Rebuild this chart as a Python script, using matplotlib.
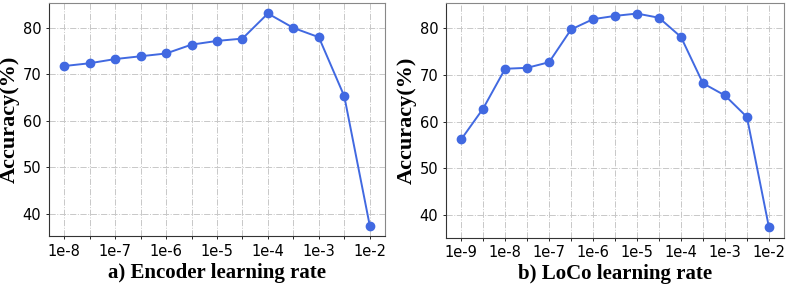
import matplotlib

matplotlib.use("Agg")
import matplotlib.pyplot as plt

enc_labels = ["1e-8", "1e-7", "1e-6", "1e-5", "1e-4", "1e-3", "1e-2"]
enc_acc = [71.8, 72.4, 73.3, 73.9, 74.5, 76.4, 77.2, 77.7, 83.1, 80.0, 78.0, 65.3, 37.5]

loco_labels = ["1e-9", "1e-8", "1e-7", "1e-6", "1e-5", "1e-4", "1e-3", "1e-2"]
loco_acc = [56.2, 62.8, 71.3, 71.5, 72.7, 79.7, 81.9, 82.6, 83.1, 82.2, 78.1, 68.2, 65.6, 61.0, 37.5]

panels = [
    (enc_acc, enc_labels, "a) Encoder learning rate"),
    (loco_acc, loco_labels, "b) LoCo learning rate"),
]

fig, axes = plt.subplots(1, 2, figsize=(7.89, 2.88), dpi=100)
serif = {"family": "Liberation Serif", "weight": "bold"}

for ax, (acc, labels, title) in zip(axes, panels):
    xs = list(range(len(acc)))
    ax.plot(xs, acc, color="#4169E1", linewidth=1.4, marker="o", markersize=6)
    ax.set_xticks(xs)
    ax.set_xticklabels([labels[i // 2] if i % 2 == 0 else "" for i in xs], fontsize=10.5)
    ax.set_yticks([40, 50, 60, 70, 80])
    ax.tick_params(axis="y", labelsize=10.5, length=2, width=0.6)
    ax.tick_params(axis="x", length=2, width=0.6)
    ax.grid(True, linestyle="-.", color="#c8c8c8", linewidth=0.7)
    ax.set_ylabel("Accuracy(%)", fontdict=serif, fontsize=16, labelpad=2)
    ax.set_xlabel(title, fontdict=serif, fontsize=15, labelpad=3)
    for side in ("top", "right"):
        ax.spines[side].set_color("#888888")
    for side in ("left", "bottom"):
        ax.spines[side].set_color("#333333")

axes[0].set_position([0.062, 0.18, 0.426, 0.81])
axes[1].set_position([0.565, 0.175, 0.429, 0.815])

plt.savefig("out.png", dpi=100)
plt.close()
